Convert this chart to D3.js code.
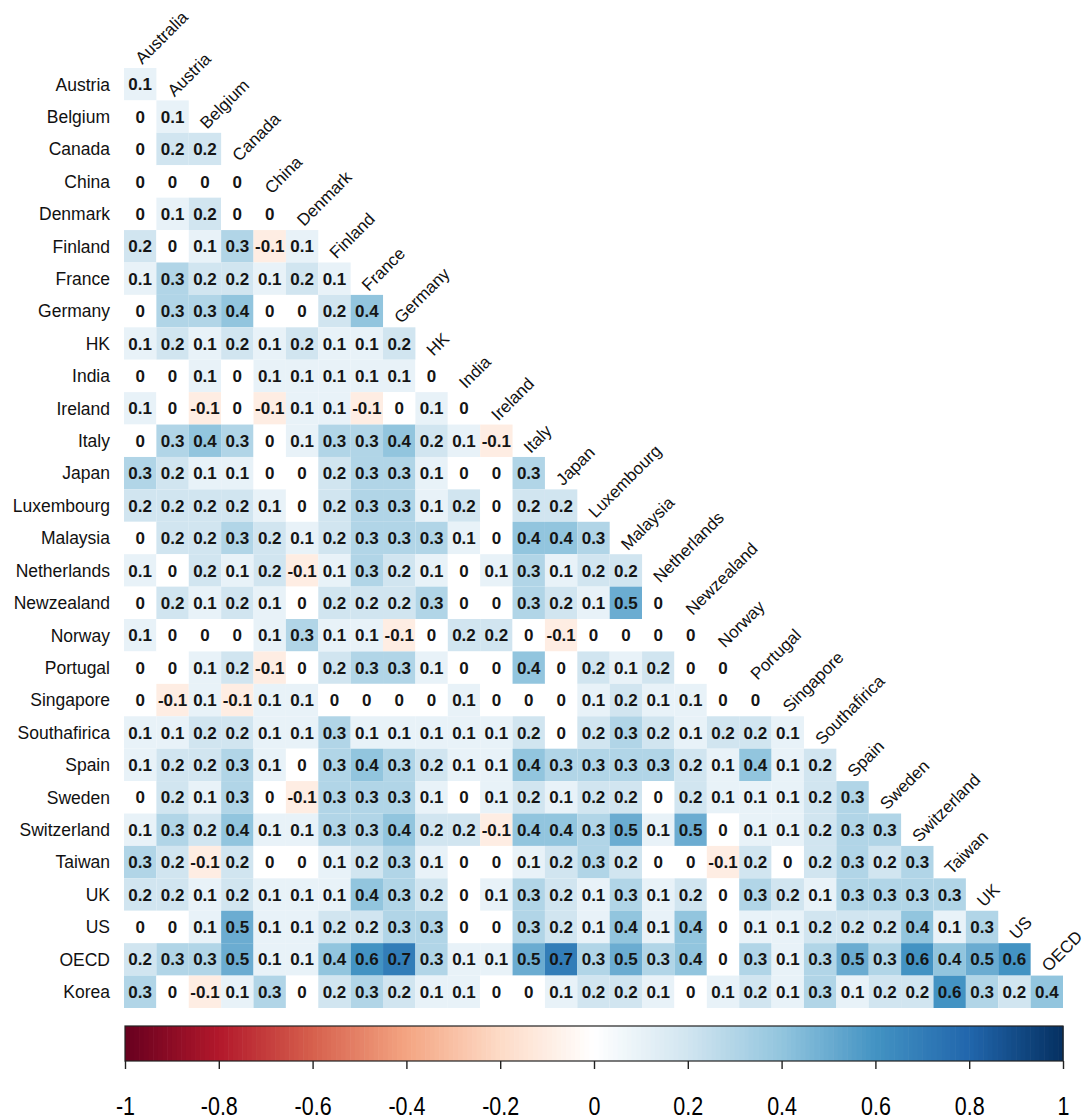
<!DOCTYPE html>
<html>
<head>
<meta charset="utf-8">
<script src="https://cdn.jsdelivr.net/npm/d3@7/dist/d3.min.js"></script>
<style>
  html, body { margin: 0; padding: 0; background: #ffffff; }
  svg { display: block; }
  text { font-family: "Liberation Sans", Arial, sans-serif; fill: #000; }
</style>
</head>
<body>
<svg id="chart" width="1086" height="1120"></svg>
<script>
// Column variables (top, diagonal labels)
const columnLabels = ["Australia", "Austria", "Belgium", "Canada", "China", "Denmark",
  "Finland", "France", "Germany", "HK", "India", "Ireland", "Italy", "Japan",
  "Luxembourg", "Malaysia", "Netherlands", "Newzealand", "Norway", "Portugal",
  "Singapore", "Southafirica", "Spain", "Sweden", "Switzerland", "Taiwan", "UK",
  "US", "OECD"];

// Row variables (left labels)
const rowLabels = ["Austria", "Belgium", "Canada", "China", "Denmark", "Finland",
  "France", "Germany", "HK", "India", "Ireland", "Italy", "Japan", "Luxembourg",
  "Malaysia", "Netherlands", "Newzealand", "Norway", "Portugal", "Singapore",
  "Southafirica", "Spain", "Sweden", "Switzerland", "Taiwan", "UK", "US", "OECD",
  "Korea"];

// Lower triangle of the correlation matrix, one array per row (rounded to 0.1)
const lowerTriangle = [
  [0.1],
  [0, 0.1],
  [0, 0.2, 0.2],
  [0, 0, 0, 0],
  [0, 0.1, 0.2, 0, 0],
  [0.2, 0, 0.1, 0.3, -0.1, 0.1],
  [0.1, 0.3, 0.2, 0.2, 0.1, 0.2, 0.1],
  [0, 0.3, 0.3, 0.4, 0, 0, 0.2, 0.4],
  [0.1, 0.2, 0.1, 0.2, 0.1, 0.2, 0.1, 0.1, 0.2],
  [0, 0, 0.1, 0, 0.1, 0.1, 0.1, 0.1, 0.1, 0],
  [0.1, 0, -0.1, 0, -0.1, 0.1, 0.1, -0.1, 0, 0.1, 0],
  [0, 0.3, 0.4, 0.3, 0, 0.1, 0.3, 0.3, 0.4, 0.2, 0.1, -0.1],
  [0.3, 0.2, 0.1, 0.1, 0, 0, 0.2, 0.3, 0.3, 0.1, 0, 0, 0.3],
  [0.2, 0.2, 0.2, 0.2, 0.1, 0, 0.2, 0.3, 0.3, 0.1, 0.2, 0, 0.2, 0.2],
  [0, 0.2, 0.2, 0.3, 0.2, 0.1, 0.2, 0.3, 0.3, 0.3, 0.1, 0, 0.4, 0.4, 0.3],
  [0.1, 0, 0.2, 0.1, 0.2, -0.1, 0.1, 0.3, 0.2, 0.1, 0, 0.1, 0.3, 0.1, 0.2, 0.2],
  [0, 0.2, 0.1, 0.2, 0.1, 0, 0.2, 0.2, 0.2, 0.3, 0, 0, 0.3, 0.2, 0.1, 0.5, 0],
  [0.1, 0, 0, 0, 0.1, 0.3, 0.1, 0.1, -0.1, 0, 0.2, 0.2, 0, -0.1, 0, 0, 0, 0],
  [0, 0, 0.1, 0.2, -0.1, 0, 0.2, 0.3, 0.3, 0.1, 0, 0, 0.4, 0, 0.2, 0.1, 0.2, 0, 0],
  [0, -0.1, 0.1, -0.1, 0.1, 0.1, 0, 0, 0, 0, 0.1, 0, 0, 0, 0.1, 0.2, 0.1, 0.1, 0, 0],
  [0.1, 0.1, 0.2, 0.2, 0.1, 0.1, 0.3, 0.1, 0.1, 0.1, 0.1, 0.1, 0.2, 0, 0.2, 0.3, 0.2, 0.1, 0.2, 0.2, 0.1],
  [0.1, 0.2, 0.2, 0.3, 0.1, 0, 0.3, 0.4, 0.3, 0.2, 0.1, 0.1, 0.4, 0.3, 0.3, 0.3, 0.3, 0.2, 0.1, 0.4, 0.1, 0.2],
  [0, 0.2, 0.1, 0.3, 0, -0.1, 0.3, 0.3, 0.3, 0.1, 0, 0.1, 0.2, 0.1, 0.2, 0.2, 0, 0.2, 0.1, 0.1, 0.1, 0.2, 0.3],
  [0.1, 0.3, 0.2, 0.4, 0.1, 0.1, 0.3, 0.3, 0.4, 0.2, 0.2, -0.1, 0.4, 0.4, 0.3, 0.5, 0.1, 0.5, 0, 0.1, 0.1, 0.2, 0.3, 0.3],
  [0.3, 0.2, -0.1, 0.2, 0, 0, 0.1, 0.2, 0.3, 0.1, 0, 0, 0.1, 0.2, 0.3, 0.2, 0, 0, -0.1, 0.2, 0, 0.2, 0.3, 0.2, 0.3],
  [0.2, 0.2, 0.1, 0.2, 0.1, 0.1, 0.1, 0.4, 0.3, 0.2, 0, 0.1, 0.3, 0.2, 0.1, 0.3, 0.1, 0.2, 0, 0.3, 0.2, 0.1, 0.3, 0.3, 0.3, 0.3],
  [0, 0, 0.1, 0.5, 0.1, 0.1, 0.2, 0.2, 0.3, 0.3, 0, 0, 0.3, 0.2, 0.1, 0.4, 0.1, 0.4, 0, 0.1, 0.1, 0.2, 0.2, 0.2, 0.4, 0.1, 0.3],
  [0.2, 0.3, 0.3, 0.5, 0.1, 0.1, 0.4, 0.6, 0.7, 0.3, 0.1, 0.1, 0.5, 0.7, 0.3, 0.5, 0.3, 0.4, 0, 0.3, 0.1, 0.3, 0.5, 0.3, 0.6, 0.4, 0.5, 0.6],
  [0.3, 0, -0.1, 0.1, 0.3, 0, 0.2, 0.3, 0.2, 0.1, 0.1, 0, 0, 0.1, 0.2, 0.2, 0.1, 0, 0.1, 0.2, 0.1, 0.3, 0.1, 0.2, 0.2, 0.6, 0.3, 0.2, 0.4]
];

// Colour legend tick values
const legendTicks = [-1, -0.8, -0.6, -0.4, -0.2, 0, 0.2, 0.4, 0.6, 0.8, 1];

// Diverging red-white-blue palette
const palette = ["#67001F", "#B2182B", "#D6604D", "#F4A582", "#FDDBC7", "#FFFFFF",
  "#D1E5F0", "#92C5DE", "#4393C3", "#2166AC", "#053061"];

const svg = d3.select("#chart");

const x = d3.scaleBand().domain(columnLabels).range([124, 1063]).padding(0);
const y = d3.scaleBand().domain(rowLabels).range([68, 1008]).padding(0);
const color = d3.scaleLinear()
  .domain(d3.range(palette.length).map(i => -1 + i * 2 / (palette.length - 1)))
  .range(palette)
  .interpolate(d3.interpolateRgb);

const cells = [];
lowerTriangle.forEach((row, r) => {
  row.forEach((v, c) => cells.push({ row: rowLabels[r], col: columnLabels[c], value: v }));
});

const fmt = v => String(+v.toFixed(1));

// Heatmap cells
svg.append("g").selectAll("rect")
  .data(cells)
  .join("rect")
  .attr("x", d => x(d.col))
  .attr("y", d => y(d.row))
  .attr("width", x.bandwidth())
  .attr("height", y.bandwidth())
  .attr("fill", d => color(d.value));

// Coefficient labels
svg.append("g").selectAll("text")
  .data(cells)
  .join("text")
  .attr("x", d => x(d.col) + x.bandwidth() / 2)
  .attr("y", d => y(d.row) + y.bandwidth() / 2)
  .attr("text-anchor", "middle")
  .attr("dy", "0.36em")
  .style("font-size", "17px")
  .style("font-weight", "bold")
  .style("fill", "#151515")
  .text(d => fmt(d.value));

// Row labels
svg.append("g").selectAll("text")
  .data(rowLabels)
  .join("text")
  .attr("x", 110)
  .attr("y", d => y(d) + y.bandwidth() / 2)
  .attr("dy", "0.36em")
  .attr("text-anchor", "end")
  .style("font-size", "17.5px")
  .style("fill", "#111")
  .text(d => d);

// Diagonal column labels, placed above each column's first cell
svg.append("g").selectAll("text")
  .data(columnLabels)
  .join("text")
  .attr("transform", (d, i) => {
    const tx = x(d) + x.bandwidth() / 2 + 2;
    const ty = y(rowLabels[i]) - 3;
    return `translate(${tx},${ty}) rotate(-45)`;
  })
  .attr("text-anchor", "start")
  .style("font-size", "17px")
  .style("fill", "#111")
  .text(d => d);

// Colour legend
const legendX = d3.scaleLinear().domain([-1, 1]).range([125, 1063]);
const barTop = 1026, barH = 35;
const steps = d3.range(200).map(i => -1 + (i + 0.5) * 2 / 200);
const stepW = (legendX(1) - legendX(-1)) / steps.length;

const legend = svg.append("g");
legend.selectAll("rect.step")
  .data(steps)
  .join("rect")
  .attr("class", "step")
  .attr("x", d => legendX(d) - stepW / 2)
  .attr("y", barTop)
  .attr("width", stepW + 0.6)
  .attr("height", barH)
  .attr("fill", d => color(d));

legend.append("rect")
  .attr("x", legendX(-1))
  .attr("y", barTop)
  .attr("width", legendX(1) - legendX(-1))
  .attr("height", barH)
  .attr("fill", "none")
  .attr("stroke", "#222")
  .attr("stroke-width", 1.2);

const legendAxis = d3.axisBottom(legendX)
  .tickValues(legendTicks)
  .tickSize(8)
  .tickPadding(28)
  .tickFormat(fmt);

const axisG = legend.append("g")
  .attr("transform", `translate(0,${barTop + barH})`)
  .call(legendAxis);
axisG.select(".domain").remove();
axisG.selectAll(".tick line").attr("stroke", "#222").attr("stroke-width", 1.4);
axisG.selectAll(".tick text")
  .attr("fill", "#000")
  .attr("transform", "scale(0.86,1)")
  .style("font-family", "\"Liberation Sans\", Arial, sans-serif")
  .style("font-size", "25px");
</script>
</body>
</html>
